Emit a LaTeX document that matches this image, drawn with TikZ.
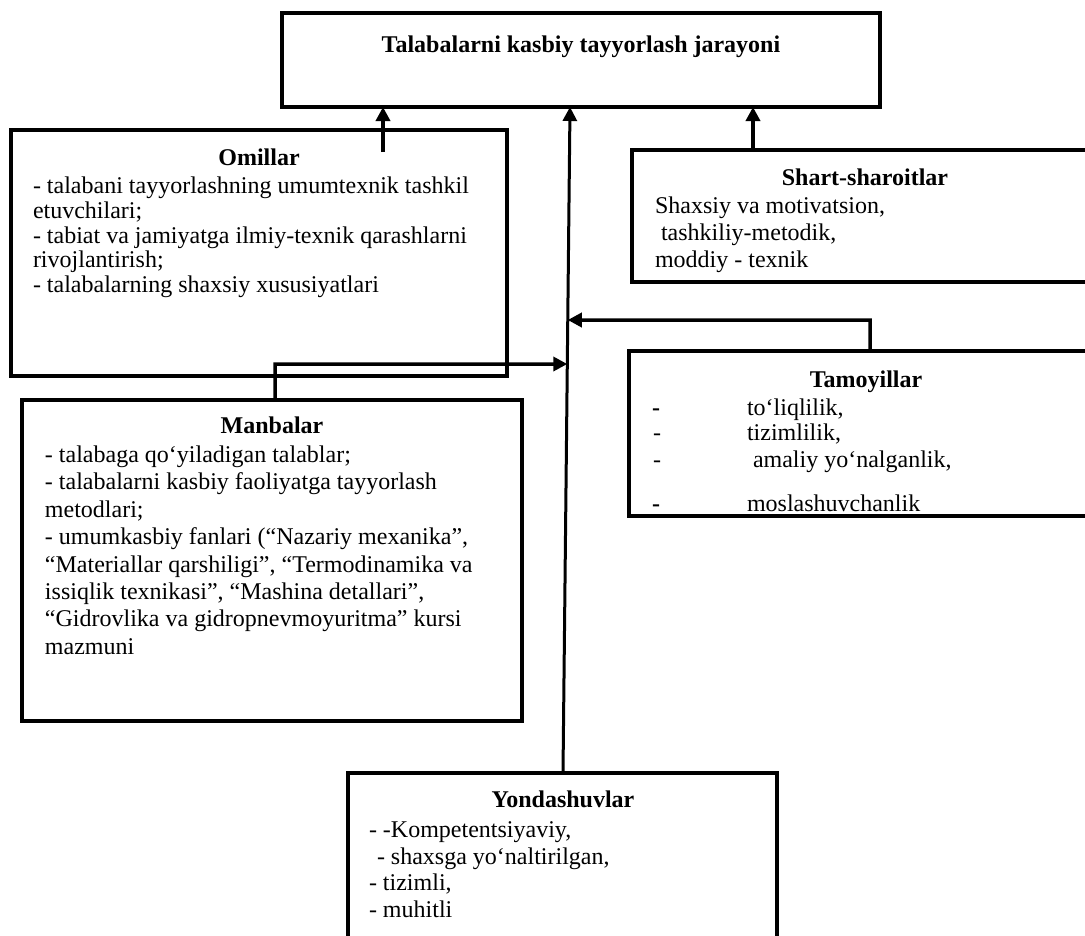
\documentclass[tikz,border=0pt]{standalone}
\usepackage{fontspec}
\setmainfont{Liberation Serif}
\usetikzlibrary{arrows.meta,calc}
\newcommand\txtline[4]{\node[txt] (#1) at (#2,#3) {#4};}
\begin{document}
\begin{tikzpicture}[x=1pt,y=-1pt,
  box/.style={draw, line width=4pt, inner sep=0pt, outer sep=0pt, anchor=north west},
  txt/.style={inner sep=0pt, outer sep=0pt, font=\fontsize{24}{26}\selectfont, anchor=base west},
  hd/.style={inner sep=0pt, outer sep=0pt, font=\fontsize{24}{26}\selectfont\bfseries, anchor=base},
  conn/.style={line width=3.5pt},
  arr/.style={conn, -{Triangle[length=14pt,width=14pt]}}]
\clip (0,0) rectangle (1085,935);
\fill[white] (0,0) rectangle (1085,935);

% boxes
\node[box, minimum width=598pt, minimum height=94pt] (top) at (282,13) {};
\node[box, minimum width=496pt, minimum height=246pt] (om) at (11,130) {};
\node[box, minimum width=466pt, minimum height=132pt] (sh) at (632,150) {};
\node[box, minimum width=474pt, minimum height=165pt] (tam) at (629,351) {};
\node[box, minimum width=500pt, minimum height=321pt] (man) at (22,400) {};
\node[box, minimum width=429pt, minimum height=200pt] (yon) at (348,773) {};

% title
\node[hd] (ttl) at (581,52) {Talabalarni kasbiy tayyorlash jarayoni};

% Omillar
\node[hd] (omh) at (259,165) {Omillar};
\txtline{om1}{33}{193}{- talabani tayyorlashning umumtexnik tashkil}
\txtline{om2}{33}{218}{etuvchilari;}
\txtline{om3}{33}{243}{- tabiat va jamiyatga ilmiy-texnik qarashlarni}
\txtline{om4}{33}{267}{rivojlantirish;}
\txtline{om5}{33}{292}{- talabalarning shaxsiy xususiyatlari}

% Shart-sharoitlar
\node[hd] (shh) at (865,185) {Shart-sharoitlar};
\txtline{sh1}{655}{213}{Shaxsiy va motivatsion,}
\txtline{sh2}{661}{240}{tashkiliy-metodik,}
\txtline{sh3}{655}{267}{moddiy - texnik}

% Tamoyillar
\node[hd] (tamh) at (866,387) {Tamoyillar};
\begin{scope}
\clip (631,353) rectangle (1101,512);
\txtline{td1}{652}{415}{\textbf{-}}
\txtline{td2}{653}{440}{-}
\txtline{td3}{653}{467}{-}
\txtline{td4}{652}{511}{\textbf{-}}
\txtline{ta1}{747}{415}{to‘liqlilik,}
\txtline{ta2}{747}{440}{tizimlilik,}
\txtline{ta3}{753}{467}{amaliy yo‘nalganlik,}
\txtline{ta4}{747}{511}{moslashuvchanlik}
\end{scope}

% Manbalar
\node[hd] (manh) at (272,433) {Manbalar};
\txtline{m1}{45}{462}{- talabaga qo‘yiladigan talablar;}
\txtline{m2}{45}{489.5}{- talabalarni kasbiy faoliyatga tayyorlash}
\txtline{m3}{45}{517}{metodlari;}
\txtline{m4}{45}{544.5}{- umumkasbiy fanlari (“Nazariy mexanika”,}
\txtline{m5}{45}{572}{“Materiallar qarshiligi”, “Termodinamika va}
\txtline{m6}{45}{599}{issiqlik texnikasi”, “Mashina detallari”,}
\txtline{m7}{45}{626.5}{“Gidrovlika va gidropnevmoyuritma” kursi}
\txtline{m8}{45}{654}{mazmuni}

% Yondashuvlar
\node[hd] (yonh) at (563,807) {Yondashuvlar};
\txtline{y1}{369}{837}{- -Kompetentsiyaviy,}
\txtline{y2}{377}{864}{- shaxsga yo‘naltirilgan,}
\txtline{y3}{369}{890}{- tizimli,}
\txtline{y4}{369}{917}{- muhitli}

% connector coordinates
\coordinate (omA) at (383,152);
\coordinate (shX) at (753,0);
\coordinate (yA) at (563,773);
\coordinate (mX) at (570,0);
\coordinate (mT) at (mX |- top.south);
\coordinate (tX) at (870,0);
\coordinate (tK) at (870,320);
\coordinate (mnX) at (275,0);
\coordinate (mnK) at (275,364);
\coordinate (mP320) at ($(yA)!{(773-320)/666}!(mT)$);
\coordinate (mP364) at ($(yA)!{(773-364)/666}!(mT)$);

% connectors
\draw[arr] (omA) -- (omA |- top.south);
\draw[arr] (shX |- sh.north) -- (shX |- top.south);
\draw[arr, line width=3pt] (yA) -- (mT);
\draw[arr] (tX |- tam.north) -- (tK) -- (mP320);
\draw[arr] (mnX |- man.north) -- (mnK) -- (mP364);
\end{tikzpicture}
\end{document}
